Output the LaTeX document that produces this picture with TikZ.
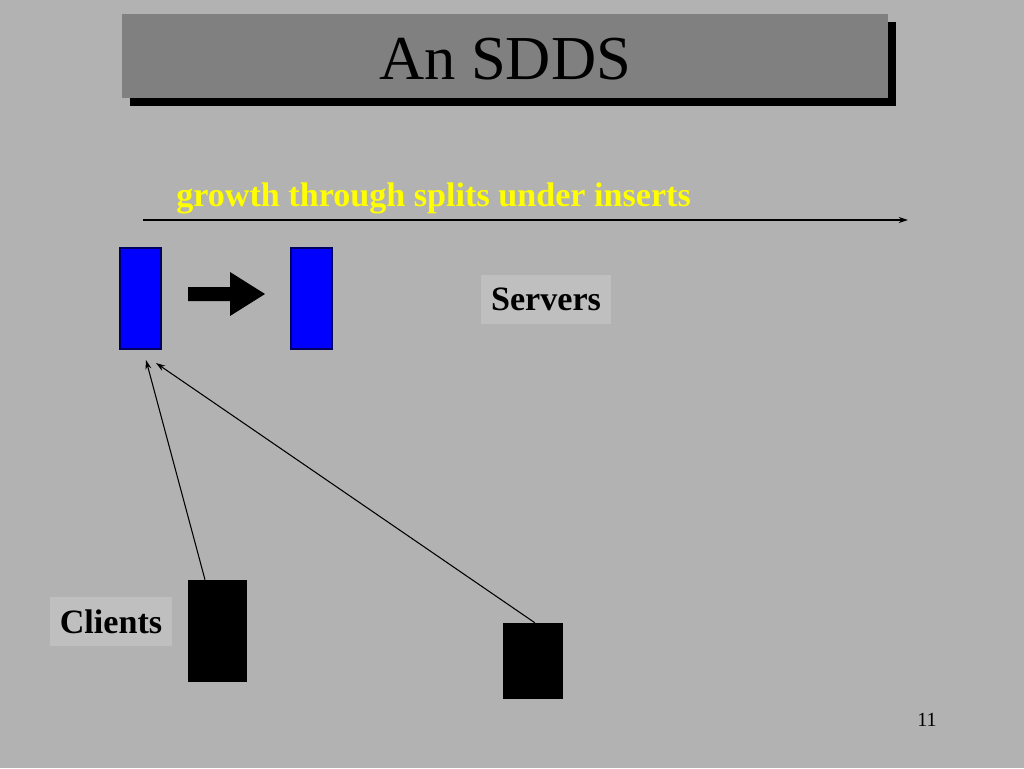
\documentclass[tikz,border=0pt]{standalone}
\usepackage{fontspec}
\setmainfont{Liberation Serif}
\usetikzlibrary{arrows.meta,calc}
\definecolor{bg}{HTML}{B2B2B2}
\definecolor{titlegray}{HTML}{808080}
\definecolor{labelgray}{HTML}{BFBFBF}
\definecolor{srvblue}{HTML}{0000FF}
\definecolor{srvedge}{HTML}{000060}
\definecolor{growyellow}{HTML}{FFFF00}
\tikzset{
  server/.style={draw=srvedge, line width=0.8pt, fill=srvblue, minimum width=30.75pt, minimum height=75.75pt, inner sep=0pt},
  client/.style={fill=black, inner sep=0pt},
  label/.style={fill=labelgray, inner sep=0pt, font=\fontsize{25.6}{28}\selectfont\bfseries},
  conn/.style={line width=0.8pt, -{Stealth[length=7pt,width=4.5pt]}},
}
\begin{document}
\begin{tikzpicture}[x=0.75pt,y=-0.75pt]
\useasboundingbox[fill=bg] (0,0) rectangle (1024,768);
% title with shadow
\fill[black] (130,22) rectangle (896,106);
\node[fill=titlegray, minimum width=574.5pt, minimum height=63pt, inner sep=0pt, anchor=north west] (titlebox) at (122,14) {};
\node[anchor=base, font=\fontsize{46.9}{50}\selectfont] (title) at (505,79) {An SDDS};
% growth line
\node[anchor=base west, text=growyellow, font=\fontsize{25.6}{28}\selectfont\bfseries, inner sep=0pt] (growth) at (176,206) {growth through splits under inserts};
\coordinate (gs) at (143,220);
\coordinate (ge) at (908,220);
\draw[line width=0.8pt, -{Stealth[length=7pt,width=4.5pt]}] (gs) -- (ge);
% servers
\node[server] (s1) at (140.5,298.5) {};
\node[server] (s2) at (311.5,298.5) {};
\fill[black] (188,287) -- (230,287) -- (230,272) -- (265,294) -- (230,316) -- (230,301) -- (188,301) -- cycle;
\node[label, minimum width=97.5pt, minimum height=36.75pt] (servers) at (546,299.5) {Servers};
% clients
\node[client, minimum width=44.25pt, minimum height=76.5pt] (c1) at (217.5,631) {};
\node[client, minimum width=45pt, minimum height=57pt] (c2) at (533,661) {};
\node[label, minimum width=91.5pt, minimum height=36.75pt] (clients) at (111,621.5) {Clients};
\coordinate (t1) at (146,360);
\coordinate (t2) at (156,363);
\draw[conn] ($(c1.north west)!0.29!(c1.north east)$) -- (t1);
\draw[conn] ($(c2.north west)!0.53!(c2.north east)$) -- (t2);
% page number
\node[anchor=base, font=\fontsize{15}{17}\selectfont, inner sep=0pt] (pagenum) at (927,726) {11};
\end{tikzpicture}
\end{document}
